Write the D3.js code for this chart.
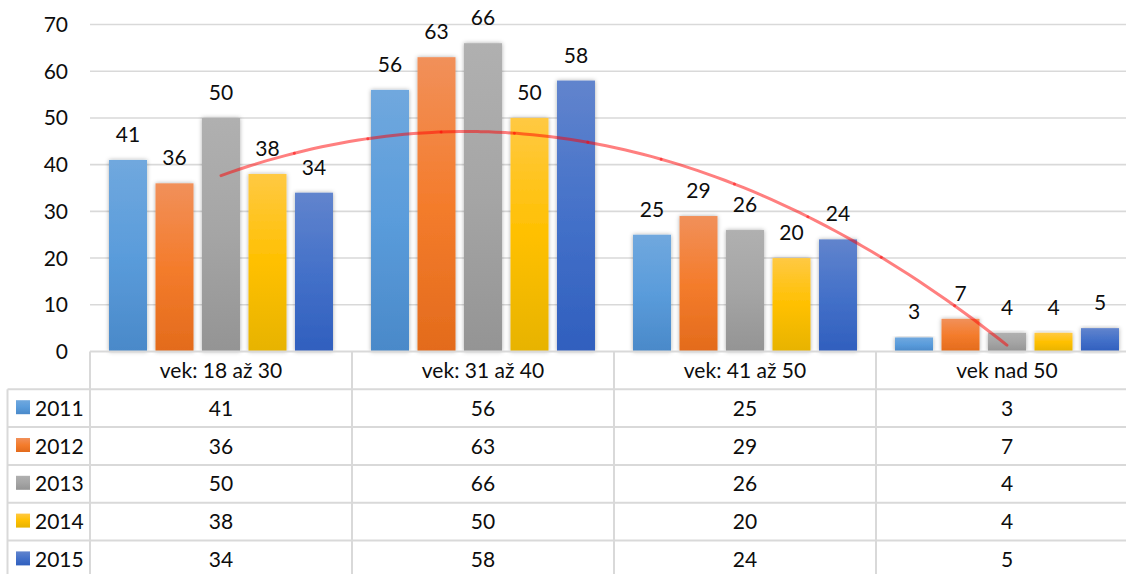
<!DOCTYPE html>
<html>
<head>
<meta charset="utf-8">
<script src="https://cdn.jsdelivr.net/npm/d3@7"></script>
<style>
  html, body { margin: 0; padding: 0; background: #fff; overflow: hidden; }
  svg text { font-family: Lato, "Open Sans", sans-serif; font-size: 21px; fill: #0d0d0d; }
</style>
</head>
<body>
<div id="chart"></div>
<script>
// data
const categories = ["vek: 18 až 30", "vek: 31 až 40", "vek: 41 až 50", "vek nad 50"];
const years = ["2011", "2012", "2013", "2014", "2015"];
const values2011 = [41, 56, 25, 3];
const values2012 = [36, 63, 29, 7];
const values2013 = [50, 66, 26, 4];
const values2014 = [38, 50, 20, 4];
const values2015 = [34, 58, 24, 5];
const yTicks = [0, 10, 20, 30, 40, 50, 60, 70];

const seriesValues = [values2011, values2012, values2013, values2014, values2015];

// gradient stops per series (top, middle, bottom)
const seriesColors = [
  ["#70a8de", "#5a9cdb", "#4a89c9"],
  ["#f1905a", "#f47c2c", "#e36b1c"],
  ["#b0b0b0", "#a5a5a5", "#949494"],
  ["#ffc943", "#ffc000", "#e7b300"],
  ["#6184cd", "#4471c9", "#305fbe"]
];

class ChartWithTable {
  constructor(_config) {
    this.config = {
      parentElement: _config.parentElement,
      width: _config.width || 1126,
      height: _config.height || 574,
      plotLeft: 90,
      categoryWidth: 262,
      plotTop: 24.5,
      plotBottom: 351.5,
      tableLeft: 7.5,
      rowHeight: 37.8
    };
    this.initVis();
  }

  initVis() {
    let vis = this;
    const c = vis.config;

    vis.svg = d3.select(c.parentElement).append("svg")
      .attr("width", c.width)
      .attr("height", c.height);

    const defs = vis.svg.append("defs");
    seriesColors.forEach((cols, i) => {
      const g = defs.append("linearGradient")
        .attr("id", "grad" + i)
        .attr("x1", 0).attr("y1", 0).attr("x2", 0).attr("y2", 1);
      g.append("stop").attr("offset", "0%").attr("stop-color", cols[0]);
      g.append("stop").attr("offset", "50%").attr("stop-color", cols[1]);
      g.append("stop").attr("offset", "100%").attr("stop-color", cols[2]);
    });
    const shadow = defs.append("filter").attr("id", "shadow")
      .attr("x", "-30%").attr("y", "-10%").attr("width", "160%").attr("height", "120%");
    shadow.append("feDropShadow")
      .attr("dx", 0).attr("dy", 0).attr("stdDeviation", 2.2)
      .attr("flood-color", "#000").attr("flood-opacity", 0.32);

    // scales
    vis.x0 = d3.scaleBand()
      .domain(categories)
      .range([c.plotLeft, c.plotLeft + c.categoryWidth * categories.length]);
    vis.x1 = d3.scaleBand()
      .domain(years)
      .range([0, vis.x0.bandwidth()])
      .paddingInner(0.183)
      .paddingOuter(0.409);
    vis.y = d3.scaleLinear().domain([0, 70]).range([c.plotBottom, c.plotTop]);

    // gridlines
    vis.svg.append("g")
      .selectAll("line")
      .data(yTicks.filter(t => t > 0))
      .join("line")
      .attr("x1", c.plotLeft).attr("x2", c.width)
      .attr("y1", d => vis.y(d)).attr("y2", d => vis.y(d))
      .attr("stroke", "#d9d9d9").attr("stroke-width", 1.6);

    // y axis labels
    vis.svg.append("g")
      .selectAll("text")
      .data(yTicks)
      .join("text")
      .attr("x", 68)
      .attr("y", d => vis.y(d) + 7.5)
      .attr("text-anchor", "end")
      .text(d => d);

    // bars
    const groups = vis.svg.append("g")
      .selectAll("g")
      .data(categories)
      .join("g")
      .attr("transform", d => "translate(" + vis.x0(d) + ",0)");

    groups.selectAll("rect")
      .data((d, ci) => years.map((yr, si) => ({ yr, si, v: seriesValues[si][ci] })))
      .join("rect")
      .attr("x", d => vis.x1(d.yr))
      .attr("y", d => vis.y(d.v))
      .attr("width", vis.x1.bandwidth())
      .attr("height", d => vis.y(0) - vis.y(d.v))
      .attr("fill", d => "url(#grad" + d.si + ")")
      .attr("filter", "url(#shadow)");

    groups.selectAll("text")
      .data((d, ci) => years.map((yr, si) => ({ yr, si, v: seriesValues[si][ci] })))
      .join("text")
      .attr("x", d => vis.x1(d.yr) + vis.x1.bandwidth() / 2)
      .attr("y", d => vis.y(d.v) - 18)
      .attr("text-anchor", "middle")
      .text(d => d.v);

    vis.drawTrend();
    vis.drawTable();
  }

  // polynomial (order 2) trendline of the 2015 series, like Excel does it
  drawTrend() {
    let vis = this;
    const xs = values2015.map((v, i) => i + 1);
    const n = xs.length;
    const xm = d3.mean(xs);
    const u = xs.map(x => x - xm);
    const su2 = d3.sum(u, d => d * d);
    const su4 = d3.sum(u, d => d ** 4);
    const sy = d3.sum(values2015);
    const suy = d3.sum(u, (d, i) => d * values2015[i]);
    const su2y = d3.sum(u, (d, i) => d * d * values2015[i]);
    const b = suy / su2;
    const cc = (n * su2y - su2 * sy) / (n * su4 - su2 * su2);
    const a = (sy - cc * su2) / n;
    const f = x => a + b * (x - xm) + cc * (x - xm) ** 2;

    const xTrend = d3.scaleLinear()
      .domain([1, n])
      .range([vis.x0(categories[0]) + vis.x0.bandwidth() / 2,
              vis.x0(categories[n - 1]) + vis.x0.bandwidth() / 2]);

    const line = d3.line()
      .x(d => xTrend(d))
      .y(d => vis.y(f(d)))
      .curve(d3.curveMonotoneX);

    // drawn as overlapping pieces so joints show darker dots
    const knots = d3.range(1, n, 0.28).concat([n]);
    const pieces = d3.pairs(knots).map(([s, e]) => d3.range(0, 9).map(k => s + (e - s) * k / 8));

    vis.svg.append("g")
      .selectAll("path")
      .data(pieces)
      .join("path")
      .attr("d", line)
      .attr("fill", "none")
      .attr("stroke", "#ff0000")
      .attr("stroke-opacity", 0.5)
      .attr("stroke-width", 3)
      .attr("stroke-linecap", "round");
  }

  drawTable() {
    let vis = this;
    const c = vis.config;
    const rows = ["header"].concat(years);
    const yRow = d3.scaleBand()
      .domain(rows)
      .range([c.plotBottom, c.plotBottom + c.rowHeight * rows.length]);
    const right = c.width + 20;
    const lineColor = "#d9d9d9";

    const t = vis.svg.append("g");

    // horizontal lines
    t.selectAll("line.h")
      .data(rows)
      .join("line")
      .attr("class", "h")
      .attr("x1", d => d === "header" ? c.plotLeft : c.tableLeft)
      .attr("x2", right)
      .attr("y1", d => yRow(d)).attr("y2", d => yRow(d))
      .attr("stroke", lineColor).attr("stroke-width", 2);

    // vertical lines
    const boundaries = categories.map(d => vis.x0(d));
    t.selectAll("line.v")
      .data(boundaries)
      .join("line")
      .attr("class", "v")
      .attr("x1", d => d).attr("x2", d => d)
      .attr("y1", c.plotBottom).attr("y2", c.height + 10)
      .attr("stroke", lineColor).attr("stroke-width", 2);
    t.append("line")
      .attr("x1", c.tableLeft).attr("x2", c.tableLeft)
      .attr("y1", yRow(years[0])).attr("y2", c.height + 10)
      .attr("stroke", lineColor).attr("stroke-width", 2);

    // header texts
    t.selectAll("text.cat")
      .data(categories)
      .join("text")
      .attr("class", "cat")
      .attr("x", d => vis.x0(d) + vis.x0.bandwidth() / 2)
      .attr("y", yRow("header") + yRow.bandwidth() / 2 + 7.5)
      .attr("text-anchor", "middle")
      .text(d => d);

    // legend keys + year labels
    const rowG = t.selectAll("g.row")
      .data(years)
      .join("g")
      .attr("class", "row")
      .attr("transform", d => "translate(0," + (yRow(d) + yRow.bandwidth() / 2) + ")");

    rowG.append("rect")
      .attr("x", 16).attr("y", -8)
      .attr("width", 14).attr("height", 14)
      .attr("fill", (d, i) => "url(#grad" + i + ")");

    rowG.append("text")
      .attr("x", 35).attr("y", 7.5)
      .text(d => d);

    rowG.selectAll("text.val")
      .data((d, si) => categories.map((cat, ci) => ({ cat, v: seriesValues[si][ci] })))
      .join("text")
      .attr("class", "val")
      .attr("x", d => vis.x0(d.cat) + vis.x0.bandwidth() / 2)
      .attr("y", 7.5)
      .attr("text-anchor", "middle")
      .text(d => d.v);
  }
}

new ChartWithTable({ parentElement: "#chart" });
</script>
</body>
</html>
